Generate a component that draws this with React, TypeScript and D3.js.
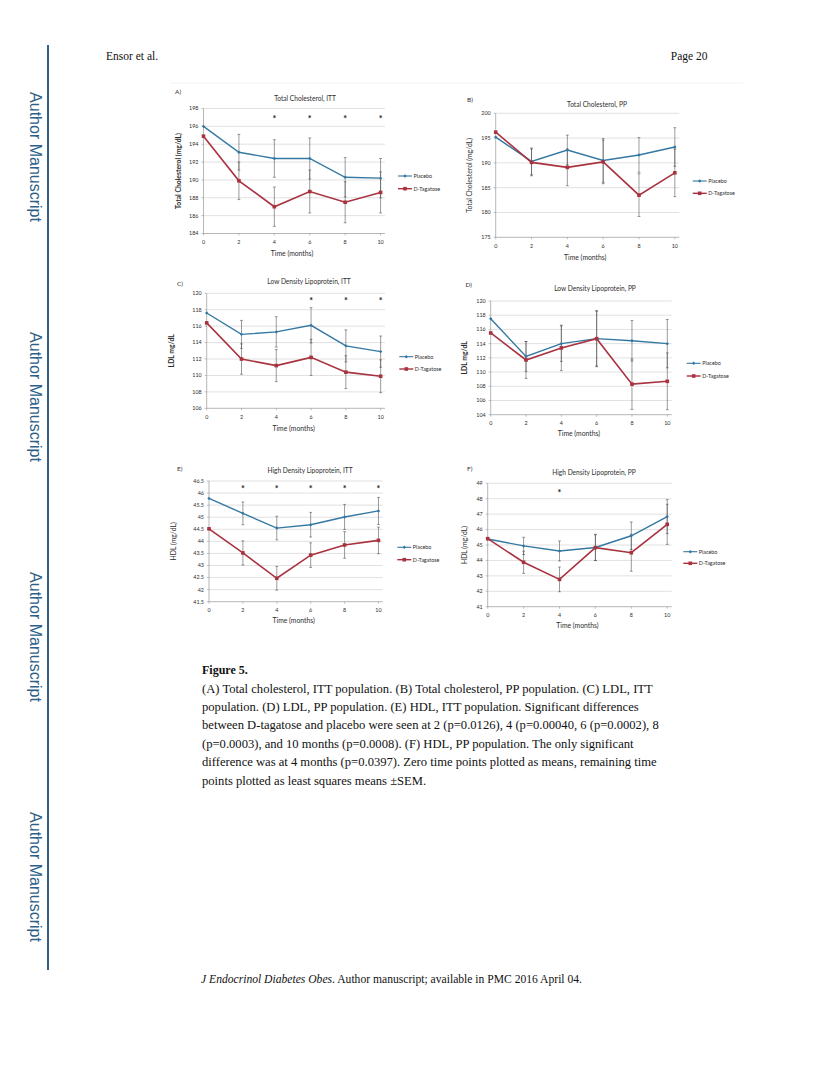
import * as d3 from "d3";

// time points (months)
const months = [0, 2, 4, 6, 8, 10];

// A) Total cholesterol, ITT
const tcIttPlacebo = [196.0, 193.1, 192.4, 192.4, 190.3, 190.2];
const tcIttPlaceboSem = [0, 2.0, 2.1, 2.3, 2.2, 2.2];
const tcIttTagatose = [194.9, 189.9, 187.0, 188.7, 187.5, 188.6];
const tcIttTagatoseSem = [0, 2.1, 2.2, 2.4, 2.3, 2.3];

// B) Total cholesterol, PP
const tcPpPlacebo = [195.2, 190.3, 192.6, 190.5, 191.6, 193.2];
const tcPpPlaceboSem = [0, 2.7, 3.0, 4.4, 3.5, 3.9];
const tcPpTagatose = [196.2, 190.1, 189.1, 190.2, 183.5, 188.0];
const tcPpTagatoseSem = [0, 2.7, 3.7, 4.4, 4.3, 4.8];

// C) LDL, ITT
const ldlIttPlacebo = [117.6, 115.0, 115.3, 116.1, 113.6, 112.9];
const ldlIttPlaceboSem = [0, 1.7, 1.85, 2.15, 1.95, 1.9];
const ldlIttTagatose = [116.4, 112.0, 111.2, 112.2, 110.4, 109.9];
const ldlIttTagatoseSem = [0, 1.85, 1.95, 2.2, 2.0, 2.0];

// D) LDL, PP
const ldlPpPlacebo = [117.5, 112.2, 114.0, 114.7, 114.4, 114.0];
const ldlPpPlaceboSem = [0, 2.1, 2.5, 3.85, 2.85, 3.4];
const ldlPpTagatose = [115.5, 111.7, 113.4, 114.7, 108.3, 108.7];
const ldlPpTagatoseSem = [0, 2.6, 3.2, 3.95, 3.55, 4.0];

// E) HDL, ITT
const hdlIttPlacebo = [45.78, 45.16, 44.55, 44.69, 45.01, 45.26];
const hdlIttPlaceboSem = [0, 0.47, 0.49, 0.51, 0.52, 0.56];
const hdlIttTagatose = [44.52, 43.52, 42.47, 43.43, 43.85, 44.04];
const hdlIttTagatoseSem = [0, 0.5, 0.49, 0.51, 0.55, 0.55];

// F) HDL, PP
const hdlPpPlacebo = [45.39, 44.94, 44.61, 44.84, 45.6, 46.84];
const hdlPpPlaceboSem = [0, 0.56, 0.65, 0.85, 0.89, 1.1];
const hdlPpTagatose = [45.41, 43.88, 42.77, 44.83, 44.5, 46.34];
const hdlPpTagatoseSem = [0, 0.72, 0.8, 0.83, 1.2, 1.3];

const seriesNames = ["Placebo", "D-Tagatose"];

const captionLines = [
  "(A) Total cholesterol, ITT population. (B) Total cholesterol, PP population. (C) LDL, ITT",
  "population. (D) LDL, PP population. (E) HDL, ITT population. Significant differences",
  "between D-tagatose and placebo were seen at 2 (p=0.0126), 4 (p=0.00040, 6 (p=0.0002), 8",
  "(p=0.0003), and 10 months (p=0.0008). (F) HDL, PP population. The only significant",
  "difference was at 4 months (p=0.0397). Zero time points plotted as means, remaining time",
  "points plotted as least squares means \u00b1SEM.",
];

const PLACEBO = "#3478a2";
const TAGATOSE = "#a9323f";
const SIDEBAR = "#2e5f88";
const FONT = "Lato, 'Open Sans', sans-serif";
const SERIF = "'Liberation Serif', 'DejaVu Serif', serif";

interface Panel {
  letter: string;
  title: string;
  yLabel: string;
  yBold: boolean;
  yDomain: [number, number];
  yStep: number;
  placebo: number[];
  placeboSem: number[];
  tagatose: number[];
  tagatoseSem: number[];
  stars: number[];
  // layout
  left: number;
  right: number;
  top: number;
  bottom: number;
  letterX: number;
  letterY: number;
  titleX: number;
  titleY: number;
  yLabelX: number;
  xLabelY: number;
  tickY: number;
  legendX: number;
  legendY: [number, number];
  starY: number;
}

const panels: Panel[] = [
  {
    letter: "A)", title: "Total Cholesterol, ITT", yLabel: "Total Cholesterol (mg/dL)", yBold: true,
    yDomain: [184, 198], yStep: 2,
    placebo: tcIttPlacebo, placeboSem: tcIttPlaceboSem, tagatose: tcIttTagatose, tagatoseSem: tcIttTagatoseSem,
    stars: [4, 6, 8, 10],
    left: 203.5, right: 385, top: 108.5, bottom: 233.5,
    letterX: 175, letterY: 94, titleX: 305, titleY: 101, yLabelX: 179, xLabelY: 255.5, tickY: 243.5,
    legendX: 398, legendY: [176, 188.7], starY: 117.5,
  },
  {
    letter: "B)", title: "Total Cholesterol, PP", yLabel: "Total Cholesterol (mg/dL)", yBold: false,
    yDomain: [175, 200], yStep: 5,
    placebo: tcPpPlacebo, placeboSem: tcPpPlaceboSem, tagatose: tcPpTagatose, tagatoseSem: tcPpTagatoseSem,
    stars: [],
    left: 495.7, right: 679.3, top: 113.3, bottom: 237.3,
    letterX: 467, letterY: 102, titleX: 597, titleY: 106.5, yLabelX: 470, xLabelY: 260, tickY: 247.5,
    legendX: 692.7, legendY: [181, 193.3], starY: 0,
  },
  {
    letter: "C)", title: "Low Density Lipoprotein, ITT", yLabel: "LDL mg/dL", yBold: true,
    yDomain: [106, 120], yStep: 2,
    placebo: ldlIttPlacebo, placeboSem: ldlIttPlaceboSem, tagatose: ldlIttTagatose, tagatoseSem: ldlIttTagatoseSem,
    stars: [6, 8, 10],
    left: 206.7, right: 385, top: 293.3, bottom: 408.3,
    letterX: 177, letterY: 285.5, titleX: 309, titleY: 283.5, yLabelX: 172, xLabelY: 430.5, tickY: 418.5,
    legendX: 399.3, legendY: [356.7, 369], starY: 299.3,
  },
  {
    letter: "D)", title: "Low Density Lipoprotein, PP", yLabel: "LDL mg/dL", yBold: true,
    yDomain: [104, 120], yStep: 2,
    placebo: ldlPpPlacebo, placeboSem: ldlPpPlaceboSem, tagatose: ldlPpTagatose, tagatoseSem: ldlPpTagatoseSem,
    stars: [],
    left: 490.7, right: 671.7, top: 301, bottom: 414.7,
    letterX: 465.5, letterY: 287, titleX: 595, titleY: 290.5, yLabelX: 465, xLabelY: 436, tickY: 424.5,
    legendX: 686.7, legendY: [363.3, 376], starY: 0,
  },
  {
    letter: "E)", title: "High Density Lipoprotein, ITT", yLabel: "HDL (mg/dL)", yBold: false,
    yDomain: [41.5, 46.5], yStep: 0.5,
    placebo: hdlIttPlacebo, placeboSem: hdlIttPlaceboSem, tagatose: hdlIttTagatose, tagatoseSem: hdlIttTagatoseSem,
    stars: [2, 4, 6, 8, 10],
    left: 209, right: 382.7, top: 481, bottom: 601.7,
    letterX: 177, letterY: 470.5, titleX: 310, titleY: 472.5, yLabelX: 174, xLabelY: 623, tickY: 612,
    legendX: 397.3, legendY: [547.3, 559.7], starY: 487.3,
  },
  {
    letter: "F)", title: "High Density Lipoprotein, PP", yLabel: "HDL (mg/dL)", yBold: false,
    yDomain: [41, 49], yStep: 1,
    placebo: hdlPpPlacebo, placeboSem: hdlPpPlaceboSem, tagatose: hdlPpTagatose, tagatoseSem: hdlPpTagatoseSem,
    stars: [4],
    left: 487.7, right: 671.7, top: 483.3, bottom: 606.7,
    letterX: 467, letterY: 471, titleX: 594, titleY: 474.5, yLabelX: 465, xLabelY: 628, tickY: 616.5,
    legendX: 683.3, legendY: [551.7, 563.3], starY: 491.7,
  },
];

function Marker({ kind, cx, cy }: { kind: number; cx: number; cy: number }) {
  if (kind === 0) {
    const r = 1.7;
    return (
      <path
        d={`M${cx},${cy - r}L${cx + r},${cy}L${cx},${cy + r}L${cx - r},${cy}Z`}
        fill={PLACEBO}
      />
    );
  }
  const s = 3.6;
  return <rect x={cx - s / 2} y={cy - s / 2} width={s} height={s} fill={TAGATOSE} />;
}

function ChartPanel({ p }: { p: Panel }) {
  const x = d3.scaleLinear().domain([0, 10.25]).range([p.left, p.right]);
  const y = d3.scaleLinear().domain(p.yDomain).range([p.bottom, p.top]);
  const n = Math.round((p.yDomain[1] - p.yDomain[0]) / p.yStep);
  const ticks = d3.range(n + 1).map((i) => +(p.yDomain[0] + i * p.yStep).toFixed(2));

  const line = d3
    .line<number>()
    .x((_, i) => x(months[i]))
    .y((d) => y(d));

  const series = [
    { values: p.placebo, sem: p.placeboSem, color: PLACEBO, width: 1.4 },
    { values: p.tagatose, sem: p.tagatoseSem, color: TAGATOSE, width: 1.6 },
  ];
  const midY = (p.top + p.bottom) / 2;

  return (
    <g fontFamily={FONT} fill="#2e2e2e">
      <text x={p.letterX} y={p.letterY} fontSize={6.5}>{p.letter}</text>
      <text x={p.titleX} y={p.titleY} fontSize={6.6} textAnchor="middle">{p.title}</text>

      {/* gridlines */}
      {ticks.slice(1).map((t) => (
        <line key={t} x1={p.left} x2={p.right} y1={y(t)} y2={y(t)} stroke="#cccccc" strokeWidth={0.6} />
      ))}
      {/* axes */}
      <line x1={p.left} x2={p.left} y1={p.top} y2={p.bottom} stroke="#969696" strokeWidth={0.7} />
      <line x1={p.left} x2={p.right} y1={p.bottom} y2={p.bottom} stroke="#969696" strokeWidth={0.7} />
      {ticks.map((t) => (
        <g key={"yt" + t}>
          <line x1={p.left - 2} x2={p.left} y1={y(t)} y2={y(t)} stroke="#969696" strokeWidth={0.6} />
          <text x={p.left - 5} y={y(t)} dy="0.35em" fontSize={5.4} textAnchor="end">{String(t)}</text>
        </g>
      ))}
      {months.map((m) => (
        <g key={"xt" + m}>
          <line x1={x(m)} x2={x(m)} y1={p.bottom} y2={p.bottom + 2} stroke="#969696" strokeWidth={0.6} />
          <text x={x(m)} y={p.tickY} fontSize={5.4} textAnchor="middle">{m}</text>
        </g>
      ))}
      <text x={x(5)} y={p.xLabelY} fontSize={6.8} textAnchor="middle">Time (months)</text>
      <text
        transform={`translate(${p.yLabelX},${midY}) rotate(-90)`}
        fontSize={6.8}
        fontWeight={p.yBold ? "bold" : "normal"}
        textAnchor="middle"
        dy="0.35em"
      >
        {p.yLabel}
      </text>

      {/* significance stars */}
      {p.stars.map((m) => (
        <text key={"s" + m} x={x(m)} y={p.starY + 4.6} fontSize={9} fontWeight="bold" textAnchor="middle" fill="#1a1a1a">*</text>
      ))}

      {/* error bars */}
      {series.map((s, si) =>
        s.values.map((v, i) =>
          s.sem[i] > 0 ? (
            <g key={`e${si}-${i}`} stroke="#474747" strokeWidth={0.55}>
              <line x1={x(months[i])} x2={x(months[i])} y1={y(v - s.sem[i])} y2={y(v + s.sem[i])} />
              <line x1={x(months[i]) - 1.4} x2={x(months[i]) + 1.4} y1={y(v - s.sem[i])} y2={y(v - s.sem[i])} />
              <line x1={x(months[i]) - 1.4} x2={x(months[i]) + 1.4} y1={y(v + s.sem[i])} y2={y(v + s.sem[i])} />
            </g>
          ) : null
        )
      )}

      {/* series lines + markers */}
      {series.map((s, si) => (
        <g key={"l" + si}>
          <path d={line(s.values) || ""} fill="none" stroke={s.color} strokeWidth={s.width} />
          {s.values.map((v, i) => (
            <Marker key={i} kind={si} cx={x(months[i])} cy={y(v)} />
          ))}
        </g>
      ))}

      {/* legend */}
      {seriesNames.map((name, si) => (
        <g key={name}>
          <line
            x1={p.legendX}
            x2={p.legendX + 14}
            y1={p.legendY[si]}
            y2={p.legendY[si]}
            stroke={si === 0 ? PLACEBO : TAGATOSE}
            strokeWidth={si === 0 ? 1.1 : 1.4}
          />
          <Marker kind={si} cx={p.legendX + 7} cy={p.legendY[si]} />
          <text x={p.legendX + 15.5} y={p.legendY[si]} dy="0.35em" fontSize={5.4}>{name}</text>
        </g>
      ))}
    </g>
  );
}

const sidebarCenters = [157, 397, 637, 877];

export default function App() {
  return (
    <svg
      width={830}
      height={1074}
      style={{ position: "absolute", left: 0, top: 0, background: "#fff" }}
    >
      <rect width={830} height={1074} fill="#fff" />

      {/* side bar */}
      <line x1={48} x2={48} y1={45} y2={970} stroke="#1f4f78" strokeWidth={1.8} />
      {sidebarCenters.map((c) => (
        <text
          key={c}
          transform={`translate(30,${c}) rotate(90)`}
          fontFamily="'Liberation Sans', Arial, sans-serif"
          fontSize={16}
          fill={SIDEBAR}
          textAnchor="middle"
        >
          Author Manuscript
        </text>
      ))}

      {/* header */}
      <text x={106} y={60} fontFamily={SERIF} fontSize={11.5} fill="#111">Ensor et al.</text>
      <text x={707.5} y={60} fontFamily={SERIF} fontSize={11.5} fill="#111" textAnchor="end">Page 20</text>

      {/* figure image edge */}
      <line x1={170} x2={743} y1={83} y2={83} stroke="#f0f0f0" strokeWidth={0.8} />

      {panels.map((p) => (
        <ChartPanel key={p.letter} p={p} />
      ))}

      {/* caption */}
      <text x={202} y={674} fontFamily={SERIF} fontSize={12} fontWeight="bold" fill="#111">Figure 5.</text>
      {captionLines.map((t, i) => (
        <text key={i} x={202} y={692.5 + i * 18.4} fontFamily={SERIF} fontSize={12.6} fill="#111">
          {t}
        </text>
      ))}

      {/* footer */}
      <text x={201} y={983} fontFamily={SERIF} fontSize={11.5} fill="#111" textLength={381} lengthAdjust="spacingAndGlyphs">
        <tspan fontStyle="italic">J Endocrinol Diabetes Obes</tspan>
        <tspan>. Author manuscript; available in PMC 2016 April 04.</tspan>
      </text>
    </svg>
  );
}
